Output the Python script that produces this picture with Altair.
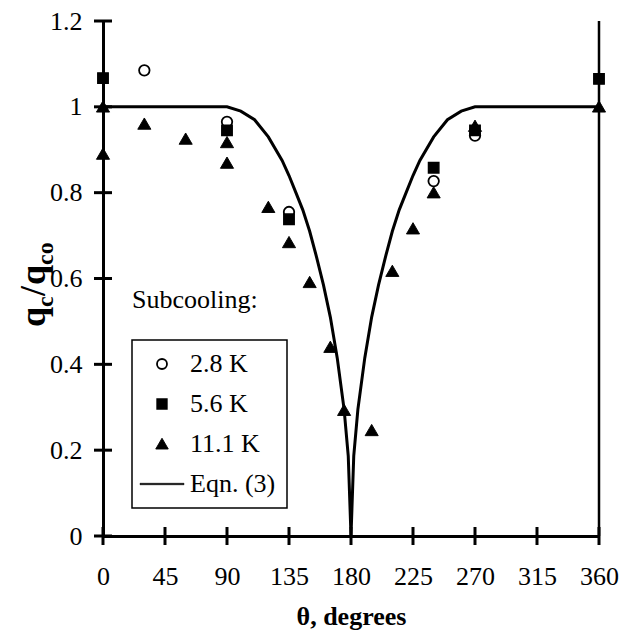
import altair as alt
import pandas as pd

# ---------------- data ----------------
theta_ticks = [0, 45, 90, 135, 180, 225, 270, 315, 360]
q_ticks = [0, 0.2, 0.4, 0.6, 0.8, 1, 1.2]

series_names = ["2.8 K", "5.6 K", "11.1 K", "Eqn. (3)"]

c28_theta = [30, 90, 135, 240, 270]
c28_q = [1.085, 0.965, 0.755, 0.827, 0.933]

s56_theta = [0, 90, 135, 240, 270, 360]
s56_q = [1.067, 0.945, 0.738, 0.858, 0.945, 1.065]

t111_theta = [0, 0, 30, 60, 90, 90, 120, 135, 150, 165, 175, 195, 210, 225, 240, 270, 360]
t111_q = [1.0, 0.89, 0.96, 0.925, 0.917, 0.869, 0.766, 0.684, 0.591, 0.44, 0.293,
          0.246, 0.617, 0.716, 0.80, 0.955, 1.0]

eq_theta = [0, 90, 100, 110, 120, 130, 135, 140, 145, 150, 155, 160, 165, 170, 175, 178,
            180, 182, 185, 190, 195, 200, 205, 210, 215, 220, 225, 230, 240, 250, 260, 270, 360]
eq_q = [1.0, 1.0, 0.99, 0.97, 0.93, 0.875, 0.84, 0.80, 0.76, 0.71, 0.65, 0.585, 0.51, 0.415,
        0.295, 0.187, 0.0, 0.187, 0.295, 0.415, 0.51, 0.585, 0.65, 0.71, 0.76, 0.80, 0.84,
        0.875, 0.93, 0.97, 0.99, 1.0, 1.0]

x_title = "θ, degrees"
legend_heading = "Subcooling:"
ytitle_parts = ["q", "c", "/", "q", "co"]

# ---------------- tables ----------------
pts = pd.concat([
    pd.DataFrame({"theta": c28_theta, "q": c28_q, "series": series_names[0]}),
    pd.DataFrame({"theta": s56_theta, "q": s56_q, "series": series_names[1]}),
    pd.DataFrame({"theta": t111_theta, "q": t111_q, "series": series_names[2]}),
], ignore_index=True)
eq_df = pd.DataFrame({"theta": eq_theta, "q": eq_q})

FONT = "Liberation Serif"
LFS = 26
W, H = 496, 515

xs = alt.Scale(domain=[0, 360], nice=False, zero=False)
ys = alt.Scale(domain=[0, 1.2], nice=False, zero=False)

X = alt.X("theta:Q", scale=xs,
          axis=alt.Axis(values=theta_ticks, title=x_title, format="d", labelFlush=False,
                        labelFont=FONT, labelFontSize=LFS, titleFont=FONT,
                        labelPadding=27, titlePadding=14))
Y = alt.Y("q:Q", scale=ys,
          axis=alt.Axis(values=q_ticks, title=None, format="~g",
                        labelFont=FONT, labelFontSize=LFS, labelPadding=21))

line = alt.Chart(eq_df).mark_line(color="black", strokeWidth=3).encode(x=X, y=Y)

TRI = "M0,-1.15L1.25,1L-1.25,1Z"
LINE_SYM = "M-4.4,-0.15H4.4V0.15H-4.4Z"
legend = alt.Legend(title=None, orient="none", legendX=29, legendY=319,
                    labelFont=FONT, labelFontSize=LFS)
points = alt.Chart(pts).mark_point(filled=False, color="black", size=110, opacity=1).encode(
    x=X, y=Y,
    shape=alt.Shape("series:N", scale=alt.Scale(
        domain=series_names,
        range=["circle", "square", TRI, LINE_SYM]), legend=legend),
    fill=alt.Fill("series:N", scale=alt.Scale(
        domain=series_names,
        range=["white", "black", "black", "black"]), legend=legend),
    stroke=alt.Stroke("series:N", scale=alt.Scale(
        domain=series_names,
        range=["black", "black", "black", "black"]), legend=legend),
    strokeWidth=alt.StrokeWidth("series:N", scale=alt.Scale(
        domain=series_names, range=[1.8, 0.5, 0.5, 1.5]), legend=legend),
)

ytick = alt.Chart(pd.DataFrame({"q": q_ticks})).mark_tick(
    orient="horizontal", size=18, thickness=3, color="black", opacity=1).encode(
    x=alt.value(0), y=Y)

xtick = alt.Chart(pd.DataFrame({"theta": theta_ticks})).mark_tick(
    orient="vertical", size=18, thickness=3, color="black", opacity=1).encode(
    x=X, y=alt.value(H))

right = alt.Chart(pd.DataFrame({"theta": [360], "q": [0], "q2": [1.2]})).mark_rule(
    color="black", strokeWidth=2.5).encode(x=X, y=Y, y2="q2:Q")

sub = alt.Chart(pd.DataFrame({"t": [legend_heading]})).mark_text(
    font=FONT, fontSize=LFS, align="left", baseline="alphabetic", color="black").encode(
    x=alt.value(29), y=alt.value(287), text="t:N")

# y title composed of pieces (q_c / q_co), rotated
big, small = 36, 24
ypos = [306, 286, 275, 264, 244]
xpos = [-58, -50, -58, -58, -50]
sizes = [big, small, big, big, small]
ytitle = []
for t, yy, xx, fs in zip(ytitle_parts, ypos, xpos, sizes):
    ytitle.append(alt.Chart(pd.DataFrame({"t": [t]})).mark_text(
        font=FONT, fontSize=fs, fontWeight="bold", angle=270, align="left",
        baseline="alphabetic", color="black").encode(
        x=alt.value(xx), y=alt.value(yy), text="t:N"))

chart = alt.layer(line, points, ytick, xtick, right, sub, *ytitle).properties(
    width=W, height=H,
    padding={"left": 95, "top": 13, "right": 20, "bottom": 98},
    autosize=alt.AutoSizeParams(type="none"),
).configure(font=FONT).configure_view(stroke=None).configure_axis(
    domainColor="black", domainWidth=3, ticks=False, tickSize=0, grid=False,
    labelFont=FONT, labelFontSize=LFS, labelColor="black",
    titleFont=FONT, titleFontSize=LFS, titleColor="black", titleFontWeight="bold",
).configure_legend(
    strokeColor="black", strokeWidth=1.5, padding=11, labelFont=FONT, labelFontSize=LFS,
    labelColor="black", rowPadding=14, symbolOffset=6, labelOffset=15,
    symbolStrokeWidth=1.8,
)

chart.save("out.html", embed_options={"renderer": "svg", "actions": False})
